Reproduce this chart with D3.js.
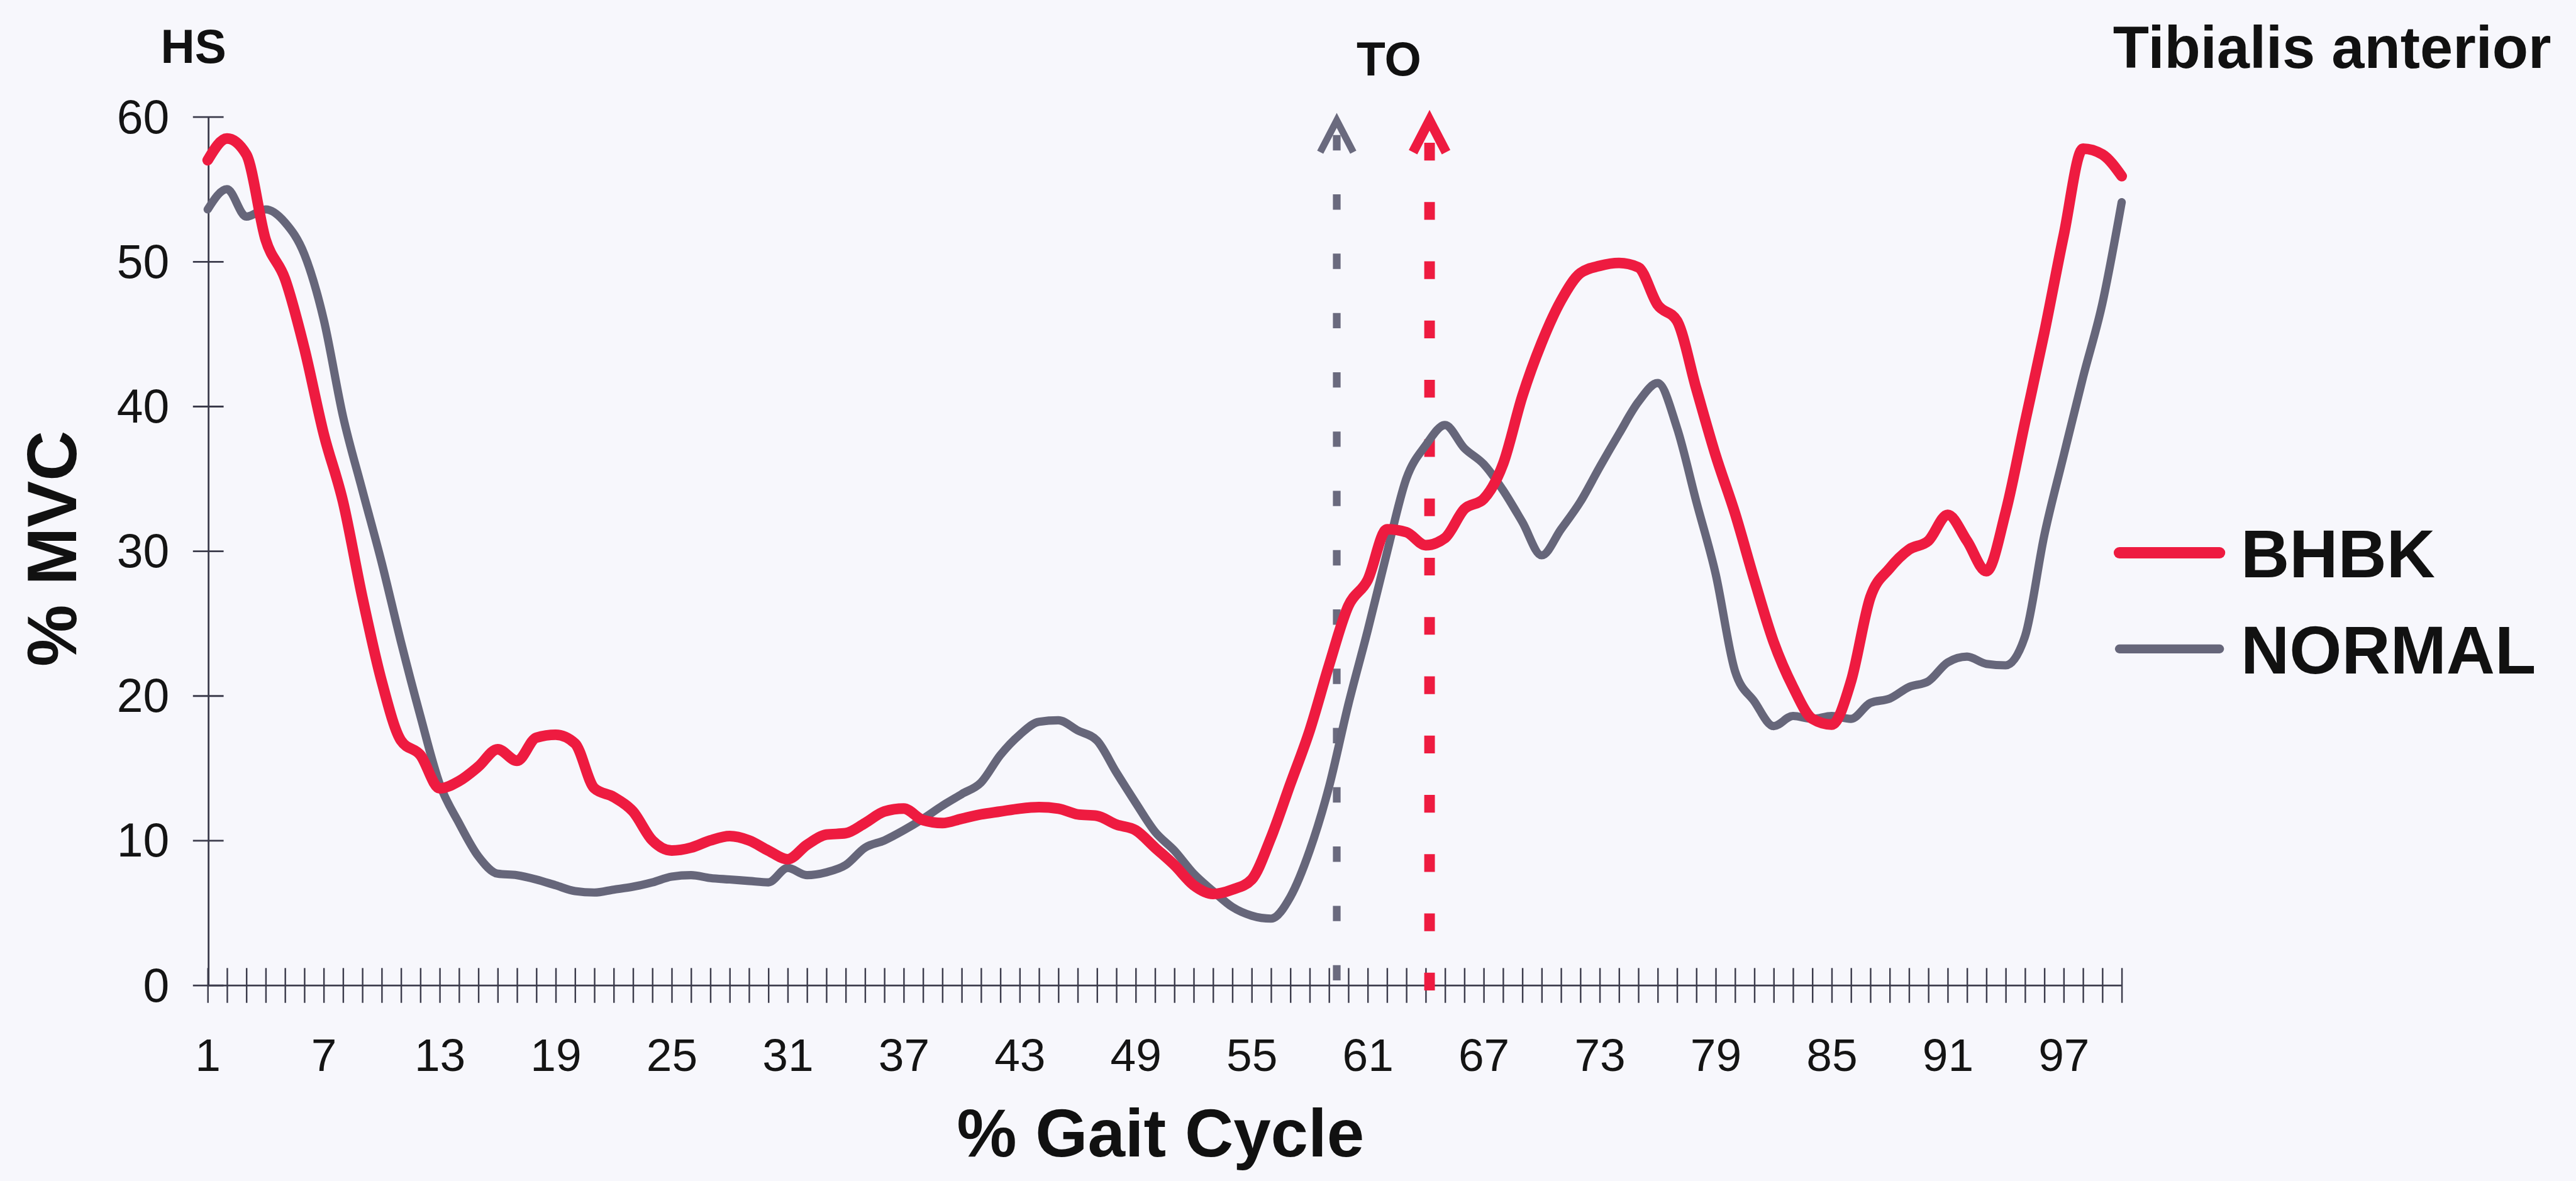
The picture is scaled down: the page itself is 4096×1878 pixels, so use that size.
<!DOCTYPE html>
<html>
<head>
<meta charset="utf-8">
<script src="https://cdn.jsdelivr.net/npm/d3@7"></script>
<style>
  html, body { margin: 0; padding: 0; background: #f7f7fc; overflow: hidden; }
  svg { display: block; }
</style>
</head>
<body>
<svg id="chart"></svg>
<script>
// % gait cycle, 1..100
const categories = d3.range(1, 101);
const xTickLabels = [1, 7, 13, 19, 25, 31, 37, 43, 49, 55, 61, 67, 73, 79, 85, 91, 97];
const yTickValues = [0, 10, 20, 30, 40, 50, 60];

// Tibialis anterior activity, % MVC
const bhbk = [
  57.0, 58.5, 57.4, 51.5, 48.8, 44.0, 38.1, 33.4, 26.8, 21.0,
  16.9, 15.9, 13.6, 14.1, 15.1, 16.3, 15.5, 17.1, 17.3, 16.7,
  13.6, 13.0, 12.0, 10.0, 9.3, 9.5, 10.0, 10.3, 10.0, 9.3,
  8.7, 9.7, 10.4, 10.5, 11.2, 12.0, 12.2, 11.4, 11.2, 11.5,
  11.8, 12.0, 12.2, 12.3, 12.2, 11.8, 11.7, 11.1, 10.7, 9.5,
  8.3, 6.9, 6.3, 6.6, 7.3, 10.2, 13.9, 17.6, 22.1, 26.2,
  28.0, 31.5, 31.3, 30.4, 30.9, 32.9, 33.6, 36.0, 40.7, 44.4,
  47.3, 49.2, 49.7, 49.9, 49.6, 47.0, 45.9, 41.2, 36.6, 32.6,
  28.0, 23.7, 20.6, 18.4, 18.0, 21.0, 26.8, 28.8, 30.1, 30.7,
  32.5, 30.7, 28.6, 32.7, 38.9, 45.1, 51.8, 57.8, 57.4, 55.9
];
const normal = [
  53.6, 55.0, 53.1, 53.6, 52.7, 50.5, 46.0, 39.3, 34.2, 29.2,
  23.7, 18.6, 13.9, 11.2, 8.9, 7.7, 7.6, 7.3, 6.9, 6.5,
  6.4, 6.6, 6.8, 7.1, 7.5, 7.6, 7.4, 7.3, 7.2, 7.1,
  8.1, 7.6, 7.8, 8.3, 9.5, 10.0, 10.7, 11.5, 12.4, 13.2,
  14.0, 15.9, 17.3, 18.2, 18.3, 17.6, 16.9, 14.7, 12.6, 10.6,
  9.3, 7.7, 6.5, 5.4, 4.8, 4.6, 6.1, 9.3, 13.7, 19.4,
  24.5, 29.9, 35.0, 37.3, 38.7, 37.1, 36.0, 34.2, 32.0, 29.7,
  31.5, 33.4, 35.8, 38.1, 40.3, 41.6, 38.5, 33.4, 28.4, 21.7,
  19.6, 17.9, 18.6, 18.4, 18.6, 18.4, 19.5, 19.8, 20.6, 21.0,
  22.3, 22.7, 22.2, 22.1, 24.1, 31.1, 36.6, 42.0, 47.1, 54.1
];

// toe-off events (% gait cycle)
const toeOffNormal = 59.4;
const toeOffBhbk = 64.2;

const seriesNames = ["BHBK", "NORMAL"];
const seriesColors = ["#ee1b40", "#66667a"];

const W = 4366, H = 2002;
const FONT = "'Liberation Sans', Arial, Helvetica, sans-serif";

const svg = d3.select("#chart")
  .attr("width", 4096)
  .attr("height", 1878)
  .attr("viewBox", `0 0 ${W} ${H}`)
  .attr("preserveAspectRatio", "none")
  .style("font-family", FONT);

svg.append("rect").attr("width", W).attr("height", H).attr("fill", "#f7f7fc");

const plot = { left: 352, right: 3596, top: 198, bottom: 1670 };

const x = d3.scaleLinear().domain([1, 100]).range([plot.left, plot.right]);
const y = d3.scaleLinear().domain([0, 60]).range([plot.bottom, plot.top]);

const axisColor = "#3b3b4b";

// y axis
const yAxis = svg.append("g")
  .attr("transform", `translate(${plot.left + 1},0)`)
  .call(d3.axisLeft(y).tickValues(yTickValues).tickSizeOuter(0).tickSize(0));
yAxis.select(".domain").attr("stroke", axisColor).attr("stroke-width", 3);
yAxis.selectAll(".tick line").attr("x1", -26).attr("x2", 26)
  .attr("stroke", axisColor).attr("stroke-width", 3);
yAxis.selectAll(".tick text")
  .attr("x", -66).attr("dy", "0.34em")
  .attr("fill", "#141414")
  .style("font-size", "80px").style("font-family", FONT);

// x axis
const xAxis = svg.append("g")
  .attr("transform", `translate(0,${plot.bottom})`)
  .call(d3.axisBottom(x).tickValues(categories).tickSizeOuter(0).tickSize(0)
    .tickFormat(d => xTickLabels.includes(d) ? String(d) : ""));
xAxis.select(".domain").attr("stroke", axisColor).attr("stroke-width", 3);
xAxis.selectAll(".tick line").attr("y1", -29).attr("y2", 30)
  .attr("stroke", axisColor).attr("stroke-width", 2.6);
xAxis.selectAll(".tick text")
  .attr("y", 145).attr("dy", 0)
  .attr("fill", "#141414")
  .style("font-size", "78px").style("font-family", FONT);

// toe-off markers (dashed arrows)
function toeOffArrow(at, color, width, dash, gap, start) {
  const g = svg.append("g");
  const xp = x(at);
  const apex = y(60) + 2;
  g.append("line")
    .attr("x1", xp).attr("x2", xp)
    .attr("y1", y(0) + start).attr("y2", apex + 8)
    .attr("stroke", color).attr("stroke-width", width)
    .attr("stroke-dasharray", `${dash} ${gap}`);
  g.append("path")
    .attr("d", `M${xp - 28},${apex + 58} L${xp},${apex + 4} L${xp + 28},${apex + 58}`)
    .attr("fill", "none").attr("stroke", color)
    .attr("stroke-width", width * 0.9).attr("stroke-linejoin", "miter");
}
toeOffArrow(toeOffNormal, "#6a6a7e", 13, 26, 74.5, -8);
toeOffArrow(toeOffBhbk, "#ee1b40", 18, 30, 70.5, 9);

// series lines
const line = d3.line()
  .x((d, i) => x(categories[i]))
  .y(d => y(d))
  .curve(d3.curveMonotoneX);

svg.append("path").datum(normal)
  .attr("d", line)
  .attr("fill", "none").attr("stroke", seriesColors[1])
  .attr("stroke-width", 14).attr("stroke-linejoin", "round").attr("stroke-linecap", "round");

svg.append("path").datum(bhbk)
  .attr("d", line)
  .attr("fill", "none").attr("stroke", seriesColors[0])
  .attr("stroke-width", 18).attr("stroke-linejoin", "round").attr("stroke-linecap", "round");

// annotations
svg.append("text").text("HS")
  .attr("x", 328).attr("y", 107).attr("text-anchor", "middle")
  .style("font-size", "80px").style("font-weight", "bold").attr("fill", "#111");
svg.append("text").text("TO")
  .attr("x", 2354).attr("y", 128).attr("text-anchor", "middle")
  .style("font-size", "80px").style("font-weight", "bold").attr("fill", "#111");
svg.append("text").text("Tibialis anterior")
  .attr("x", 4324).attr("y", 115).attr("text-anchor", "end")
  .style("font-size", "100px").style("font-weight", "bold").attr("fill", "#111");

// axis titles
svg.append("text").text("% Gait Cycle")
  .attr("x", 1967).attr("y", 1960).attr("text-anchor", "middle")
  .style("font-size", "114px").style("font-weight", "bold").attr("fill", "#111");
svg.append("text").text("% MVC")
  .attr("transform", "translate(129,930) rotate(-90)")
  .attr("text-anchor", "middle")
  .style("font-size", "118px").style("font-weight", "bold").attr("fill", "#111");

// legend
const legend = svg.append("g");
const legendWidths = [19, 15];
seriesNames.forEach((name, i) => {
  const ly = 937 + i * 163;
  legend.append("line")
    .attr("x1", 3592).attr("x2", 3762).attr("y1", ly).attr("y2", ly)
    .attr("stroke", seriesColors[i]).attr("stroke-width", legendWidths[i])
    .attr("stroke-linecap", "round");
  legend.append("text").text(name)
    .attr("x", 3798).attr("y", ly + 42)
    .style("font-size", "114px").style("font-weight", "bold").attr("fill", "#111");
});
</script>
</body>
</html>
